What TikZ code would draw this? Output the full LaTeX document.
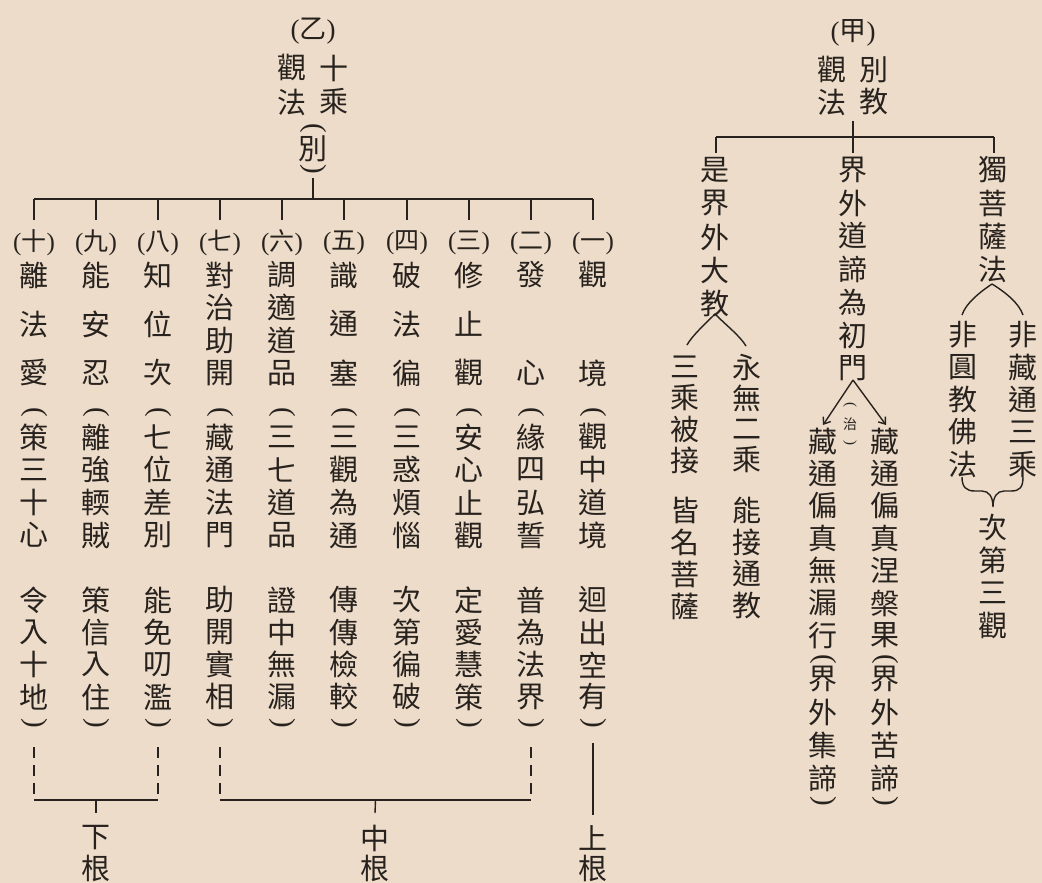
\documentclass[tikz,border=0pt]{standalone}
\usepackage{fontspec}
\newfontfamily\cjk{Noto Sans CJK TC}
\newfontfamily\lat{Liberation Serif}
\usetikzlibrary{arrows.meta,calc}
\definecolor{bg}{RGB}{236,220,201}
\definecolor{ink}{RGB}{40,34,30}
\tikzset{
  ch/.style={font=\cjk\fontsize{29}{29}\selectfont, inner sep=0pt, text=ink},
  sm/.style={font=\cjk\fontsize{14}{14}\selectfont, inner sep=0pt, text=ink},
  lab/.style={font=\cjk\fontsize{25}{25}\selectfont, inner sep=0pt, text=ink},
  ttl/.style={font=\cjk\fontsize{27}{27}\selectfont, inner sep=0pt, text=ink},
  vpar/.style={font=\lat\fontsize{29}{29}\selectfont, inner sep=0pt, text=ink, rotate=-90},
  vparsm/.style={font=\lat\fontsize{15}{15}\selectfont, inner sep=0pt, text=ink, rotate=-90},
  ln/.style={draw=ink, line width=1.4pt},
  dsh/.style={draw=ink, line width=1.4pt, dash pattern=on 11pt off 7pt},
  arr/.style={draw=ink, line width=1.4pt, -{Straight Barb[length=6pt,width=9pt,line width=1.4pt]}}
}
\newcommand\lp{{\lat(}}
\newcommand\rp{{\lat)}}
\newcommand\vcol[5]{\foreach \c [count=\k] in {#5}{\node[ch] (#1\k) at (#2,{#3+(\k-1)*#4}) {\c};}}
\newcommand\pcol[4]{%
  \node[vpar] (o#1) at (#2,412) {(};
  \vcol{p#1}{#2}{437}{32.7}{#3}
  \vcol{q#1}{#2}{600}{32.3}{#4}
  \node[vpar] (c#1) at (#2,723) {)};}
\begin{document}
\begin{tikzpicture}[x=1pt,y=-1pt]
\fill[bg] (0,0) rectangle (1042,883);
\useasboundingbox (0,0) rectangle (1042,883);

% ---------- (乙) tree ----------
\node[ttl] (yi) at (313,31) {\lp 乙\rp};
\node[ch] (yA) at (292,68) {觀};
\node[ch] (yB) at (334,68) {十};
\node[ch] (yC) at (292,102) {法};
\node[ch] (yD) at (334,102) {乘};
\node[vpar] (yo) at (313,128) {(};
\node[ch] (yE) at (313,149) {別};
\node[vpar] (yc) at (313,169) {)};
\coordinate (ybar) at (313,199);
\draw[ln] (313,178) -- (ybar);
\draw[ln] (34,199) -- (593,199);

\foreach \x/\l [count=\i from 0] in {34/十,96/九,158/八,220/七,282/六,344/五,407/四,469/三,531/二,593/一}{
  \node[lab] (L\i) at (\x,243) {\lp\l\rp};
  \draw[ln] (\x,199) -- (\x,220);
}

\vcol{t0}{34}{275}{49}{離,法,愛}
\vcol{t1}{96}{275}{49}{能,安,忍}
\vcol{t2}{158}{275}{49}{知,位,次}
\vcol{t3}{220}{275}{32.7}{對,治,助,開}
\vcol{t4}{282}{275}{32.7}{調,適,道,品}
\vcol{t5}{344}{275}{49}{識,通,塞}
\vcol{t6}{407}{275}{49}{破,法,徧}
\vcol{t7}{469}{275}{49}{修,止,觀}
\vcol{t8}{531}{275}{98}{發,心}
\vcol{t9}{593}{275}{98}{觀,境}

\pcol{0}{34}{策,三,十,心}{令,入,十,地}
\pcol{1}{96}{離,強,輭,賊}{策,信,入,住}
\pcol{2}{158}{七,位,差,別}{能,免,叨,濫}
\pcol{3}{220}{藏,通,法,門}{助,開,實,相}
\pcol{4}{282}{三,七,道,品}{證,中,無,漏}
\pcol{5}{344}{三,觀,為,通}{傳,傳,檢,較}
\pcol{6}{407}{三,惑,煩,惱}{次,第,徧,破}
\pcol{7}{469}{安,心,止,觀}{定,愛,慧,策}
\pcol{8}{531}{緣,四,弘,誓}{普,為,法,界}
\pcol{9}{593}{觀,中,道,境}{迴,出,空,有}

% bottom groups
\coordinate (k0) at (34,800);
\coordinate (k2) at (158,800);
\coordinate (k3) at (220,800);
\coordinate (k8) at (531,800);
\draw[dsh] (34,747) -- (k0);
\draw[dsh] (158,747) -- (k2);
\draw[dsh] (220,747) -- (k3);
\draw[dsh] (531,747) -- (k8);
\draw[ln] (k0) -- (k2);
\draw[ln] (k3) -- (k8);
\vcol{xg}{96}{838}{30}{下,根}
\vcol{zg}{375}{838}{30}{中,根}
\vcol{sg}{593}{838}{30}{上,根}
\draw[ln] ($(k0)!0.5!(k2)$) -- (96,813);
\draw[ln] ($(k3)!0.5!(k8)$) -- (375,813);
\draw[ln] (593,743) -- (593,815);

% ---------- (甲) tree ----------
\node[ttl] (jia) at (853,33) {\lp 甲\rp};
\node[ch] (jA) at (832,70) {觀};
\node[ch] (jB) at (874,70) {別};
\node[ch] (jC) at (832,102) {法};
\node[ch] (jD) at (874,102) {教};
\draw[ln] (853,121) -- (853,153);
\draw[ln] (716,137) -- (994,137);
\draw[ln] (716,137) -- (716,153);
\draw[ln] (994,137) -- (994,153);

\vcol{r1}{715}{170}{33.5}{是,界,外,大,教}
\vcol{r2}{853}{170}{33}{界,外,道,諦,為,初,門}
\vcol{r3}{993}{170}{33.3}{獨,菩,薩,法}

% branch 1
\coordinate (a1) at (715,314);
\draw[ln] (a1) .. controls (703,326) and (692,336) .. (687,345);
\draw[ln] (a1) .. controls (727,326) and (740,336) .. (746,346);
\vcol{b1}{685}{367}{31}{三,乘,被,接}
\vcol{b2}{685}{510}{32}{皆,名,菩,薩}
\vcol{b3}{747}{367}{31}{永,無,二,乘}
\vcol{b4}{747}{510}{32}{能,接,通,教}

% branch 2
\coordinate (a2) at (853,380);
\draw[arr] (a2) -- (823,425);
\draw[arr] (a2) -- (886,425);
\node[vparsm] (zo) at (850,405) {(};
\node[sm] (zh) at (850,424) {治};
\node[vparsm] (zc) at (850,443) {)};
\vcol{e1}{823}{441}{32.4}{藏,通,偏,真,無,漏,行}
\node[vpar] (e1o) at (823,659) {(};
\vcol{f1}{823}{679}{33.3}{界,外,集,諦}
\node[vpar] (e1c) at (823,801) {)};
\vcol{e2}{885}{441}{32.4}{藏,通,偏,真,涅,槃,果}
\node[vpar] (e2o) at (885,659) {(};
\vcol{f2}{885}{679}{33.3}{界,外,苦,諦}
\node[vpar] (e2c) at (885,801) {)};

% branch 3
\coordinate (a3) at (992,284);
\draw[ln] (a3) .. controls (980,292) and (966,303) .. (962,315);
\draw[ln] (a3) .. controls (1005,292) and (1019,303) .. (1023,315);
\vcol{g1}{963}{335}{32.3}{非,圓,教,佛,法}
\vcol{g2}{1023}{335}{32.3}{非,藏,通,三,乘}
\draw[ln] (962,477) .. controls (962,487) and (966,491) .. (975,491)
  -- (982,491) .. controls (989,491) and (993,497) .. (993,507)
  .. controls (993,497) and (997,491) .. (1004,491)
  -- (1011,491) .. controls (1020,491) and (1023,487) .. (1023,477);
\vcol{h1}{993}{528}{32.5}{次,第,三,觀}
\end{tikzpicture}
\end{document}
